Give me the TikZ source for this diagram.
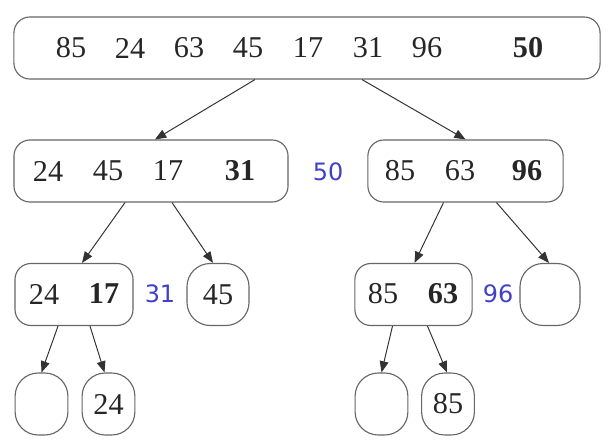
\documentclass[tikz,border=0pt]{standalone}
\usepackage{fontspec}
\setmainfont{Liberation Serif}
\newfontfamily\pivfont{DejaVu Sans}
\usepackage{tikz}
\usetikzlibrary{arrows.meta,calc}
\definecolor{pivblue}{RGB}{64,64,200}
\tikzset{
  partbox/.style  ={draw=black!60,line width=0.8pt,rounded corners=0.4cm,
                     font=\fontsize{21.5}{25}\selectfont,text=black!85,
                     minimum height=1.55cm,inner sep=0pt},
  leafbox/.style  ={partbox,rounded corners=0.58cm,minimum width=1.32cm},
  numtxt/.style   ={font=\fontsize{21.5}{25}\selectfont,text=black!85,inner sep=0pt},
  pivtxt/.style   ={numtxt,font=\fontsize{21.5}{25}\selectfont\bfseries},
  pivlbl/.style   ={font=\pivfont\fontsize{17}{20}\selectfont,text=pivblue,inner sep=0pt},
  flow/.style     ={-{Triangle[length=2.8mm,width=2.2mm]},black!80,line width=0.7pt},
}
\begin{document}
\begin{tikzpicture}[x=0.025cm,y=-0.025cm]
\useasboundingbox (0,0) rectangle (615,445);
% ---- level 0 : whole sequence ----
\node[partbox,minimum width=14.65cm] (root) at (307,48) {};
\foreach \v/\x in {85/71,24/130,63/189,45/248,17/308,31/368,96/427}
  \node[numtxt] at (\x,48) {\v};
\node[pivtxt] at (528,48) {50};
% ---- level 1 ----
\node[partbox,minimum width=6.85cm] (L) at (151,171) {};
\foreach \v/\x in {24/48,45/108,17/168}
  \node[numtxt] at (\x,171) {\v};
\node[pivtxt] at (240,171) {31};
\node[pivlbl] (p50) at (328,172) {50};
\node[partbox,minimum width=4.88cm] (R) at (465.5,171) {};
\foreach \v/\x in {85/400,63/460}
  \node[numtxt] at (\x,171) {\v};
\node[pivtxt] at (527,171) {96};
% ---- level 2 ----
\node[partbox,minimum width=2.95cm] (LL) at (74,294.5) {};
\node[numtxt] at (44,294) {24};
\node[pivtxt] at (104,294) {17};
\node[pivlbl] (p31) at (160,294) {31};
\node[leafbox,minimum width=1.55cm] (LR) at (218,294.5) {45};
\node[partbox,minimum width=2.93cm] (RL) at (413.5,294.5) {};
\node[numtxt] at (383,294) {85};
\node[pivtxt] at (443,294) {63};
\node[pivlbl] (p96) at (498,294) {96};
\node[leafbox,minimum width=1.5cm] (RR) at (550,294.5) {};
% ---- level 3 ----
\node[leafbox] (LLL) at (41.5,404) {};
\node[leafbox] (LLR) at (108.5,404) {24};
\node[leafbox] (RLL) at (381.5,404) {};
\node[leafbox] (RLR) at (448,404) {85};
% ---- splits ----
\draw[flow] ($(root.south)+(-52,0)$) -- ($(L.north)+(4,0)$);
\draw[flow] ($(root.south)+(55,0)$)  -- (R.north);
\draw[flow] ($(L.south)+(-26,0)$)  -- ($(LL.north)+(8,0)$);
\draw[flow] ($(L.south)+(21,0)$)   -- ($(LR.north)+(-5,0)$);
\draw[flow] ($(R.south)+(-22,0)$)  -- ($(RL.north)+(1,0)$);
\draw[flow] ($(R.south)+(31,0)$)   -- ($(RR.north)+(-1,0)$);
\draw[flow] ($(LL.south)+(-16,0)$) -- (LLL.north);
\draw[flow] ($(LL.south)+(16,0)$)  -- ($(LLR.north)+(-4,0)$);
\draw[flow] ($(RL.south)+(-21,0)$) -- (RLL.north);
\draw[flow] ($(RL.south)+(14,0)$)  -- ($(RLR.north)+(-1,0)$);
\end{tikzpicture}
\end{document}
